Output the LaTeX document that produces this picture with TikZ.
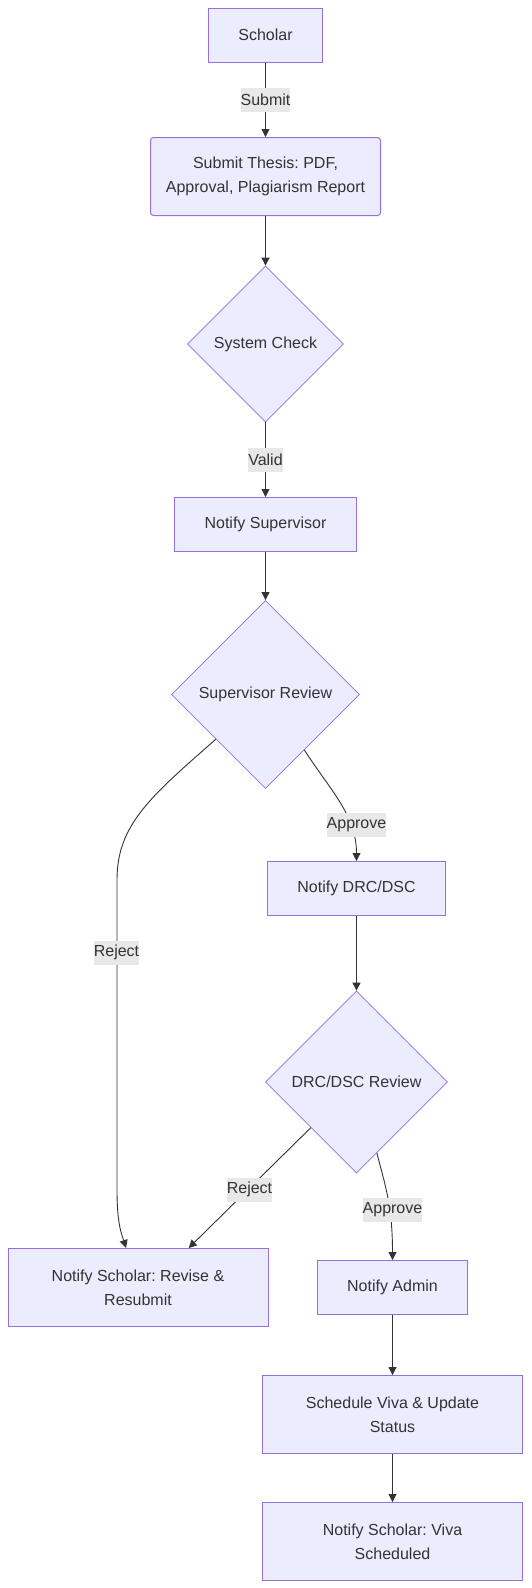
\documentclass[tikz,border=0pt]{standalone}
\usepackage{fontspec}
\setmainfont{Liberation Sans}
\usetikzlibrary{shapes.geometric,arrows.meta,calc}
\definecolor{mfill}{HTML}{ECECFF}
\definecolor{mstroke}{HTML}{9370DB}
\definecolor{mtext}{HTML}{333333}
\definecolor{mlabel}{HTML}{E8E8E8}
\frenchspacing
\begin{document}
\begin{tikzpicture}[x=1pt,y=-1pt,
  every node/.style={font=\fontsize{16}{24}\selectfont\frenchspacing, text=mtext},
  box/.style={draw=mstroke, fill=mfill, line width=1pt, inner sep=0pt, align=center},
  dia/.style={draw=mstroke, fill=mfill, line width=0.8pt, diamond, aspect=1, inner sep=0pt},
  elabel/.style={fill=mlabel, inner xsep=0pt, inner ysep=0pt, minimum height=24pt},
  conn/.style={draw=mtext, line width=0.9pt, -{Triangle[length=8pt,width=8pt]}}
]
\useasboundingbox (0,0) rectangle (531,1588);
\fill[white] (0,0) rectangle (531,1588);

\node[box, minimum width=114, minimum height=54] (scholar) at (265.5,35) {Scholar};
\node[box, rounded corners=3pt, minimum width=230, minimum height=78] (submit) at (265.5,176.5) {Submit Thesis: PDF,\\Approval, Plagiarism Report};
\node[dia, minimum width=156, minimum height=156] (check) at (265.5,344) {System Check};
\node[box, minimum width=182, minimum height=54] (nsup) at (265.5,524.5) {Notify Supervisor};
\node[dia, minimum width=188, minimum height=188] (srev) at (265.5,694.5) {Supervisor Review};
\node[box, minimum width=178, minimum height=54] (ndrc) at (356.5,888.5) {Notify DRC/DSC};
\node[dia, minimum width=182, minimum height=182] (drev) at (356.5,1082) {DRC/DSC Review};
\node[box, minimum width=260, minimum height=78] (nrev) at (138,1287.5) {Notify Scholar: Revise \&\\Resubmit};
\node[box, minimum width=150, minimum height=54] (nadmin) at (392.5,1287.5) {Notify Admin};
\node[box, minimum width=260, minimum height=78] (viva) at (392.5,1414.5) {Schedule Viva \& Update\\Status};
\node[box, minimum width=260, minimum height=78] (nviva) at (392.5,1541.5) {Notify Scholar: Viva\\Scheduled};

\draw[conn] (scholar) -- (submit);
\draw[conn] (submit) -- (check);
\draw[conn] (check) -- (nsup);
\draw[conn] (nsup) -- (srev);
\draw[conn] (srev.-138) .. controls (150,797) and (117,825) .. (117,880)
  -- (117,1190) .. controls (117,1225) and (122,1235) .. ($(nrev.north)+(-12,0)$);
\draw[conn] (srev.-55.5) .. controls (330,790) and (356.5,815) .. (ndrc.north);
\draw[conn] (ndrc) -- (drev);
\draw[conn] (drev.-135) -- ($(nrev.north)+(50.7,0)$);
\draw[conn] (drev.-74.1) .. controls (385,1185) and (392.5,1205) .. (nadmin.north);
\draw[conn] (nadmin) -- (viva);
\draw[conn] (viva) -- (nviva);

\node[elabel] (lsubmit) at (265.5,99.5) {Submit};
\node[elabel] (lvalid) at (265.5,459.5) {Valid};
\node[elabel] (lapp1) at (356.5,825) {Approve};
\node[elabel] (lrej1) at (116.5,952.5) {Reject};
\node[elabel] (lrej2) at (249.5,1189.5) {Reject};
\node[elabel] (lapp2) at (392.5,1209.5) {Approve};
\end{tikzpicture}
\end{document}
